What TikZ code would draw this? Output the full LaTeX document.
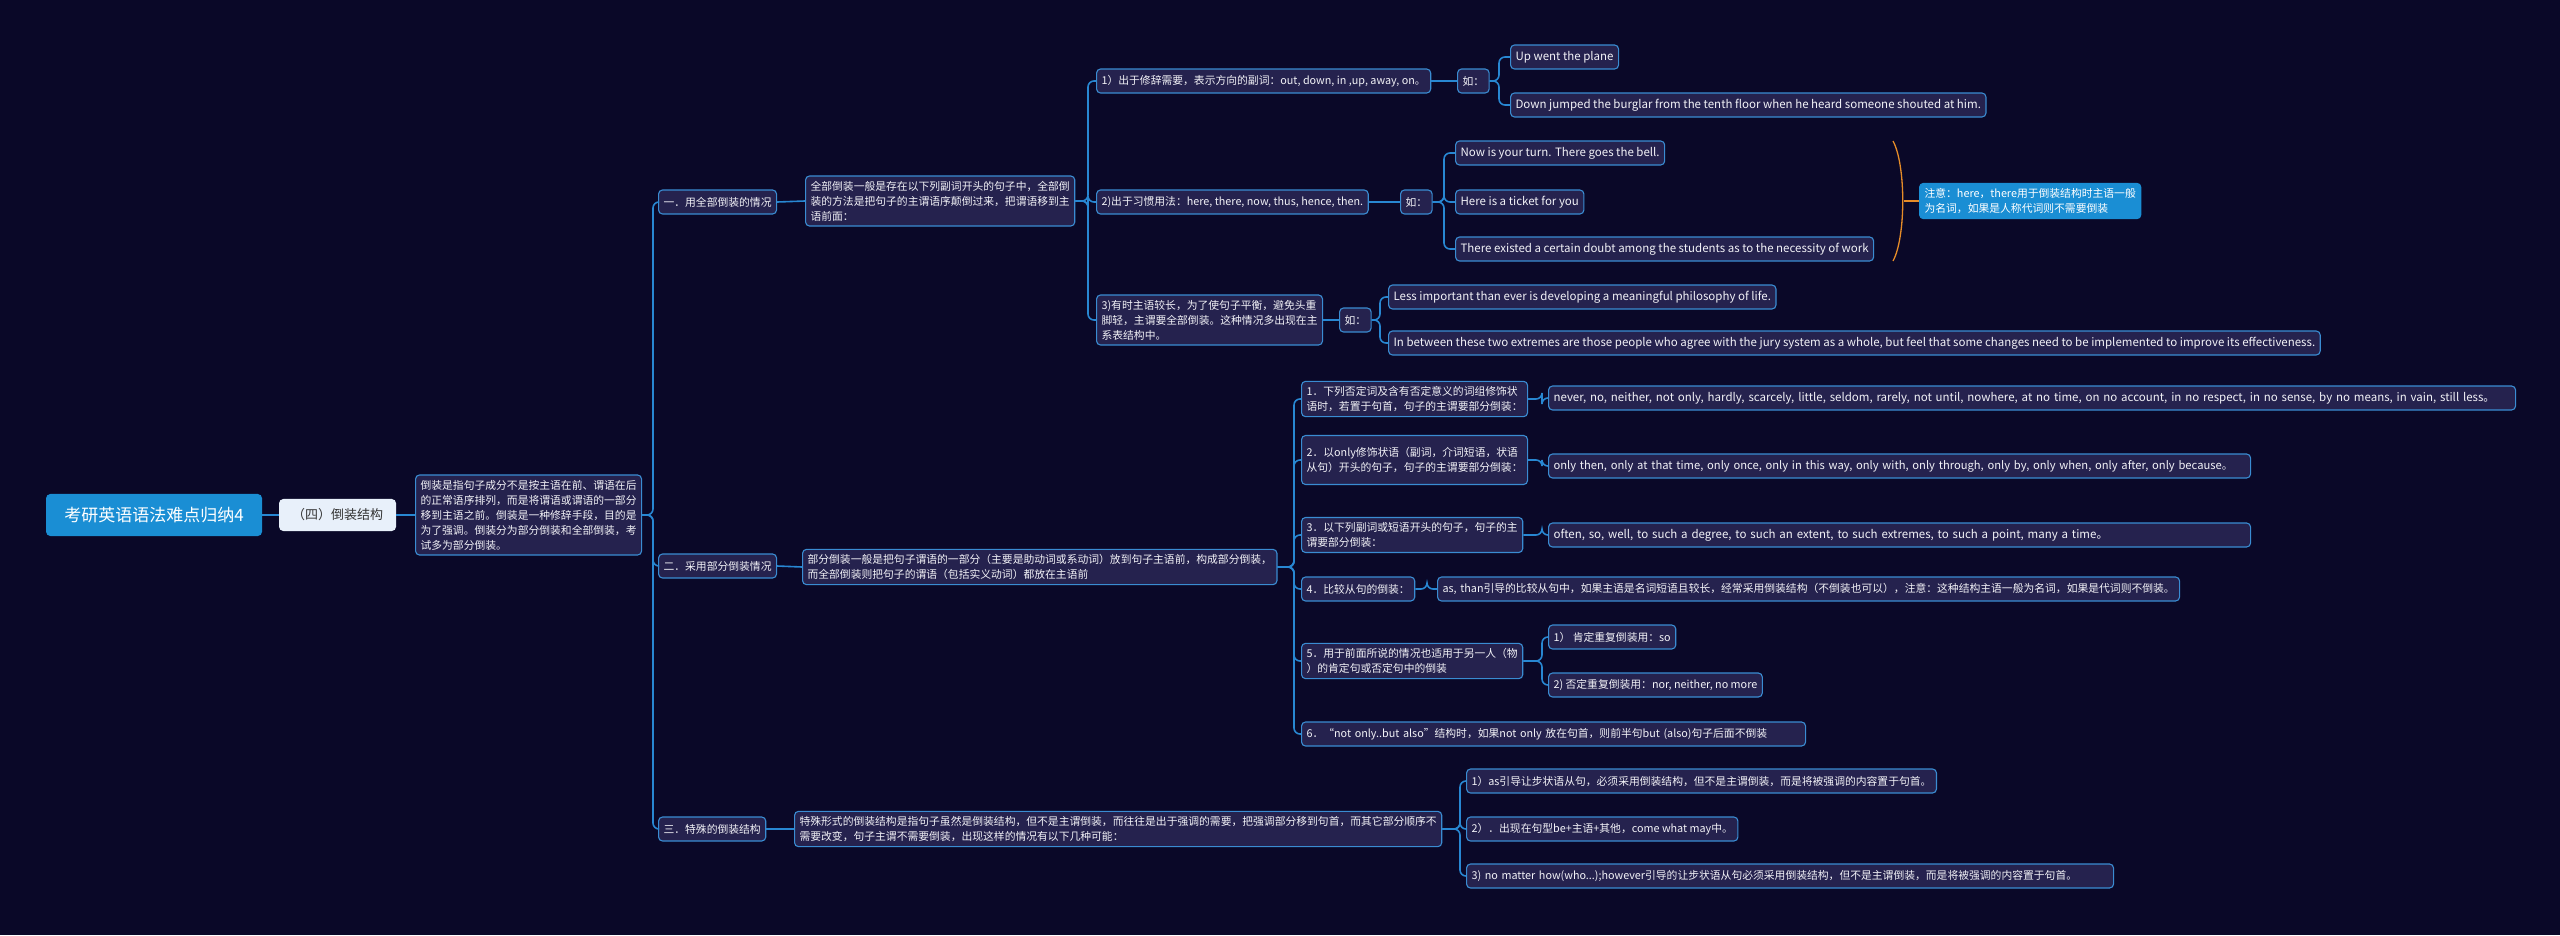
\documentclass[tikz,border=0pt]{standalone}
\usepackage{fontspec}
\setmainfont{Noto Sans CJK SC}
\usetikzlibrary{calc}
\definecolor{bg}{HTML}{0A0828}
\definecolor{boxfill}{HTML}{25224E}
\definecolor{boxline}{HTML}{3A8CD2}
\definecolor{linec}{HTML}{2887D2}
\definecolor{rootfill}{HTML}{1A8ED4}
\definecolor{subfill}{HTML}{E8F0FA}
\definecolor{txt}{HTML}{F2F2F7}
\definecolor{orng}{HTML}{E68C28}
\newcommand\lnk[3]{\draw[conn] (#1.east) -- (#1.east -| #3,0) |- (#2.west);}
\begin{document}
\begin{tikzpicture}[x=1pt,y=-1pt,
  box/.style={draw=boxline, fill=boxfill, text=txt, rounded corners=4pt, line width=1.1pt,
    inner xsep=5pt, inner ysep=5pt, minimum height=24pt, anchor=west, align=left,
    font=\fontsize{10.8pt}{15pt}\selectfont},
  lat/.style={box, font=\fontsize{11.5pt}{15pt}\selectfont},
  conn/.style={draw=linec, line width=1.6pt, rounded corners=6pt}]
\fill[bg] (0,0) rectangle (2560,935);
\useasboundingbox (0,0) rectangle (2560,935);

% root and first levels
\node[box, fill=rootfill, draw=rootfill, text=white, minimum width=215pt, minimum height=41pt, align=center,
  font=\fontsize{17pt}{20pt}\selectfont] (root) at (46,515) {考研英语语法难点归纳4};
\node[box, fill=subfill, draw=subfill, text=black!80, minimum width=116pt, minimum height=31pt, align=center,
  font=\fontsize{13pt}{16pt}\selectfont] (sub) at (279,515) {（四）倒装结构};
\node[box] (def) at (415,515) {倒装是指句子成分不是按主语在前、谓语在后\\的正常语序排列，而是将谓语或谓语的一部分\\移到主语之前。倒装是一种修辞手段，目的是\\为了强调。倒装分为部分倒装和全部倒装，考\\试多为部分倒装。};

% section 1
\node[box] (s1) at (658,202) {一．用全部倒装的情况};
\node[box] (s1t) at (805,201) {全部倒装一般是存在以下列副词开头的句子中，全部倒\\装的方法是把句子的主谓语序颠倒过来，把谓语移到主\\语前面：};
\node[box] (a1) at (1096,81) {1）出于修辞需要，表示方向的副词：out, down, in ,up, away, on。};
\node[box] (a1r) at (1457,81) {如：};
\node[lat] (a1a) at (1510,57) {Up went the plane};
\node[lat] (a1b) at (1510,105) {Down jumped the burglar from the tenth floor when he heard someone shouted at him.};
\node[box] (a2) at (1096,202) {2)出于习惯用法：here, there, now, thus, hence, then.};
\node[box] (a2r) at (1400,202) {如：};
\node[lat] (a2a) at (1455,153) {Now is your turn. There goes the bell.};
\node[lat] (a2b) at (1455,202) {Here is a ticket for you};
\node[lat] (a2c) at (1455,249) {There existed a certain doubt among the students as to the necessity of work};
\node[box, fill=rootfill, draw=rootfill, text=white] (note) at (1919,201) {注意：here，there用于倒装结构时主语一般\\为名词，如果是人称代词则不需要倒装};
\node[box] (a3) at (1096,320) {3)有时主语较长，为了使句子平衡，避免头重\\脚轻，主谓要全部倒装。这种情况多出现在主\\系表结构中。};
\node[box] (a3r) at (1339,320) {如：};
\node[lat] (a3a) at (1388,297) {Less important than ever is developing a meaningful philosophy of life.};
\node[lat] (a3b) at (1388,343) {In between these two extremes are those people who agree with the jury system as a whole, but feel that some changes need to be implemented to improve its effectiveness.};

% section 2
\node[box] (s2) at (658,566) {二．采用部分倒装情况};
\node[box] (s2t) at (802,567) {部分倒装一般是把句子谓语的一部分（主要是助动词或系动词）放到句子主语前，构成部分倒装，\\而全部倒装则把句子的谓语（包括实义动词）都放在主语前};
\node[box] (b1) at (1301,399) {1．下列否定词及含有否定意义的词组修饰状\\语时，若置于句首，句子的主谓要部分倒装：};
\node[lat, text width=957pt] (b1r) at (1548,398) {\mbox{never, no, neither, not only, hardly, scarcely, little, seldom, rarely, not until, nowhere, at no time, on no account, in no respect, in no sense, by no means, in vain, still less。}};
\node[box, minimum height=49pt] (b2) at (1301,460) {2．以only修饰状语（副词，介词短语，状语\\从句）开头的句子，句子的主谓要部分倒装：};
\node[lat, text width=692pt, font=\fontsize{11.2pt}{15pt}\selectfont] (b2r) at (1548,466) {\mbox{only then, only at that time, only once, only in this way, only with, only through, only by, only when, only after, only because。}};
\node[box] (b3) at (1301,535) {3．以下列副词或短语开头的句子，句子的主\\谓要部分倒装：};
\node[lat, text width=692pt] (b3r) at (1548,535) {\mbox{often, so, well, to such a degree, to such an extent, to such extremes, to such a point, many a time。}};
\node[box] (b4) at (1301,589) {4．比较从句的倒装：};
\node[box, text width=732pt] (b4r) at (1437,589) {\mbox{as, than引导的比较从句中，如果主语是名词短语且较长，经常采用倒装结构（不倒装也可以），注意：这种结构主语一般为名词，如果是代词则不倒装。}};
\node[box] (b5) at (1301,661) {5．用于前面所说的情况也适用于另一人（物\\）的肯定句或否定句中的倒装};
\node[box] (b5a) at (1548,637) {1） 肯定重复倒装用：so};
\node[box] (b5b) at (1548,685) {2) 否定重复倒装用：nor, neither, no more};
\node[box, text width=494pt] (b6) at (1301,734) {\mbox{6．“not only..but also”结构时，如果not only 放在句首，则前半句but (also)句子后面不倒装}};

% section 3
\node[box] (s3) at (658,829) {三．特殊的倒装结构};
\node[box] (s3t) at (794,829) {特殊形式的倒装结构是指句子虽然是倒装结构，但不是主谓倒装，而往往是出于强调的需要，把强调部分移到句首，而其它部分顺序不\\需要改变，句子主谓不需要倒装，出现这样的情况有以下几种可能：};
\node[box] (c1) at (1466,781) {1）as引导让步状语从句，必须采用倒装结构，但不是主谓倒装，而是将被强调的内容置于句首。};
\node[box] (c2) at (1466,829) {2）．出现在句型be+主语+其他，come what may中。};
\node[box, text width=637pt] (c3) at (1466,876) {\mbox{3) no matter how(who...);however引导的让步状语从句必须采用倒装结构，但不是主谓倒装，而是将被强调的内容置于句首。}};

% connectors
\draw[conn] (root.east) -- (sub.west);
\draw[conn] (sub.east) -- (def.west);
\lnk{def}{s1}{653}\lnk{def}{s2}{653}\lnk{def}{s3}{653}
\draw[conn] (s1.east) -- (s1t.west);
\lnk{s1t}{a1}{1088}\lnk{s1t}{a2}{1088}\lnk{s1t}{a3}{1088}
\draw[conn] (a1.east) -- (a1r.west);
\lnk{a1r}{a1a}{1499}\lnk{a1r}{a1b}{1499}
\draw[conn] (a2.east) -- (a2r.west);
\lnk{a2r}{a2a}{1444}\lnk{a2r}{a2b}{1444}\lnk{a2r}{a2c}{1444}
\draw[conn] (a3.east) -- (a3r.west);
\lnk{a3r}{a3a}{1380}\lnk{a3r}{a3b}{1380}
\draw[conn] (s2.east) -- (s2t.west);
\lnk{s2t}{b1}{1294}\lnk{s2t}{b2}{1294}\lnk{s2t}{b3}{1294}\lnk{s2t}{b4}{1294}\lnk{s2t}{b5}{1294}\lnk{s2t}{b6}{1294}
\lnk{b1}{b1r}{1542}\lnk{b2}{b2r}{1542}\lnk{b3}{b3r}{1542}\lnk{b4}{b4r}{1427}
\lnk{b5}{b5a}{1542}\lnk{b5}{b5b}{1542}
\draw[conn] (s3.east) -- (s3t.west);
\lnk{s3t}{c1}{1460}\lnk{s3t}{c2}{1460}\lnk{s3t}{c3}{1460}

% bracket and note
\coordinate (brtop) at (1893,141);
\coordinate (brbot) at (1893,261);
\coordinate (brmid) at (1904,201);
\draw[orng, line width=1.3pt] (brtop) .. controls (1906,165) and (1906,237) .. (brbot);
\draw[orng, line width=1.3pt] (brmid) -- (note.west);
\end{tikzpicture}
\end{document}
